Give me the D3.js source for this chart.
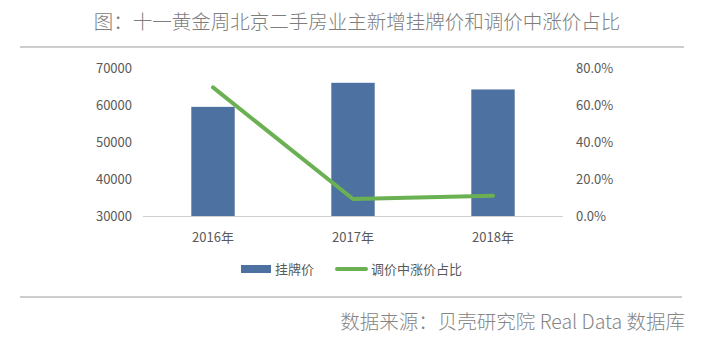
<!DOCTYPE html>
<html><head><meta charset="utf-8">
<script src="https://cdn.jsdelivr.net/npm/d3@7"></script>
<style>body{margin:0;background:#fff}svg{display:block}</style>
</head><body>
<svg id="c" width="716" height="345"></svg>
<script>
const categories = ["2016年", "2017年", "2018年"];
const listingPrice = [59500, 66000, 64200];
const riseShare = [0.695, 0.092, 0.11];
const leftTicks = [30000, 40000, 50000, 60000, 70000];
const rightTicks = [0, 0.2, 0.4, 0.6, 0.8];

(function () {
const svg = d3.select("#c");
const font = "'Microsoft YaHei','Noto Sans CJK SC',sans-serif";
const pL = 143, pR = 563, pT = 68, pB = 216;

svg.append("text").attr("x", 357).attr("y", 29).attr("text-anchor", "middle")
  .attr("font-family", font).attr("font-size", 19.5).attr("font-weight", 300).attr("fill", "#7d7d7d")
  .text("图：十一黄金周北京二手房业主新增挂牌价和调价中涨价占比");
svg.append("line").attr("x1", 20).attr("x2", 684).attr("y1", 47).attr("y2", 47)
  .attr("stroke", "#bdbdbd").attr("stroke-width", 1.3);

const x = d3.scaleBand().domain(categories).range([pL, pR]).paddingInner(0.69).paddingOuter(0.345);
const y = d3.scaleLinear().domain([30000, 70000]).range([pB, pT]);
const y2 = d3.scaleLinear().domain([0, 0.8]).range([pB, pT]);

svg.selectAll("rect.bar").data(listingPrice).join("rect").attr("class", "bar")
  .attr("x", (d, i) => x(categories[i])).attr("width", x.bandwidth())
  .attr("y", d => y(d)).attr("height", d => pB - y(d)).attr("fill", "#4d71a0");

svg.append("line").attr("x1", pL).attr("x2", pR).attr("y1", pB + 0.5).attr("y2", pB + 0.5)
  .attr("stroke", "#d0d0d0").attr("stroke-width", 1);

const ax = svg.append("g").attr("transform", `translate(${pL - 11},0)`)
  .call(d3.axisLeft(y).tickValues(leftTicks).tickSize(0).tickPadding(0).tickFormat(d3.format("d")));
const ax2 = svg.append("g").attr("transform", `translate(${pR + 13},0)`)
  .call(d3.axisRight(y2).tickValues(rightTicks).tickSize(0).tickPadding(0).tickFormat(d3.format(".1%")));
const axb = svg.append("g").attr("transform", `translate(0,${pB + 14})`)
  .call(d3.axisBottom(x).tickSize(0).tickPadding(0));
[ax, ax2, axb].forEach(g => {
  g.select(".domain").remove();
  g.selectAll("text").attr("font-family", font).attr("font-size", 13).attr("fill", "#595959");
});
axb.selectAll("text").attr("dy", "0.9em");

const line = d3.line().x((d, i) => x(categories[i]) + x.bandwidth() / 2).y(d => y2(d));
svg.append("path").datum(riseShare).attr("d", line).attr("fill", "none")
  .attr("stroke", "#6bb153").attr("stroke-width", 4).attr("stroke-linejoin", "round").attr("stroke-linecap", "round");

const lg = svg.append("g").attr("font-family", font).attr("font-size", 13).attr("fill", "#595959");
lg.append("rect").attr("x", 241).attr("y", 265).attr("width", 30).attr("height", 8).attr("fill", "#4d71a0");
lg.append("text").attr("x", 275).attr("y", 269).attr("dy", "0.35em").text("挂牌价");
lg.append("line").attr("x1", 337).attr("x2", 366).attr("y1", 269).attr("y2", 269)
  .attr("stroke", "#6bb153").attr("stroke-width", 4).attr("stroke-linecap", "round");
lg.append("text").attr("x", 371).attr("y", 269).attr("dy", "0.35em").text("调价中涨价占比");

svg.append("line").attr("x1", 20).attr("x2", 682).attr("y1", 297).attr("y2", 297)
  .attr("stroke", "#bdbdbd").attr("stroke-width", 1.3);
svg.append("text").attr("x", 685).attr("y", 329).attr("text-anchor", "end")
  .attr("font-family", font).attr("font-size", 19.5).attr("font-weight", 300).attr("fill", "#858585")
  .text("数据来源：贝壳研究院 Real Data 数据库");
})();
</script>
</body></html>
